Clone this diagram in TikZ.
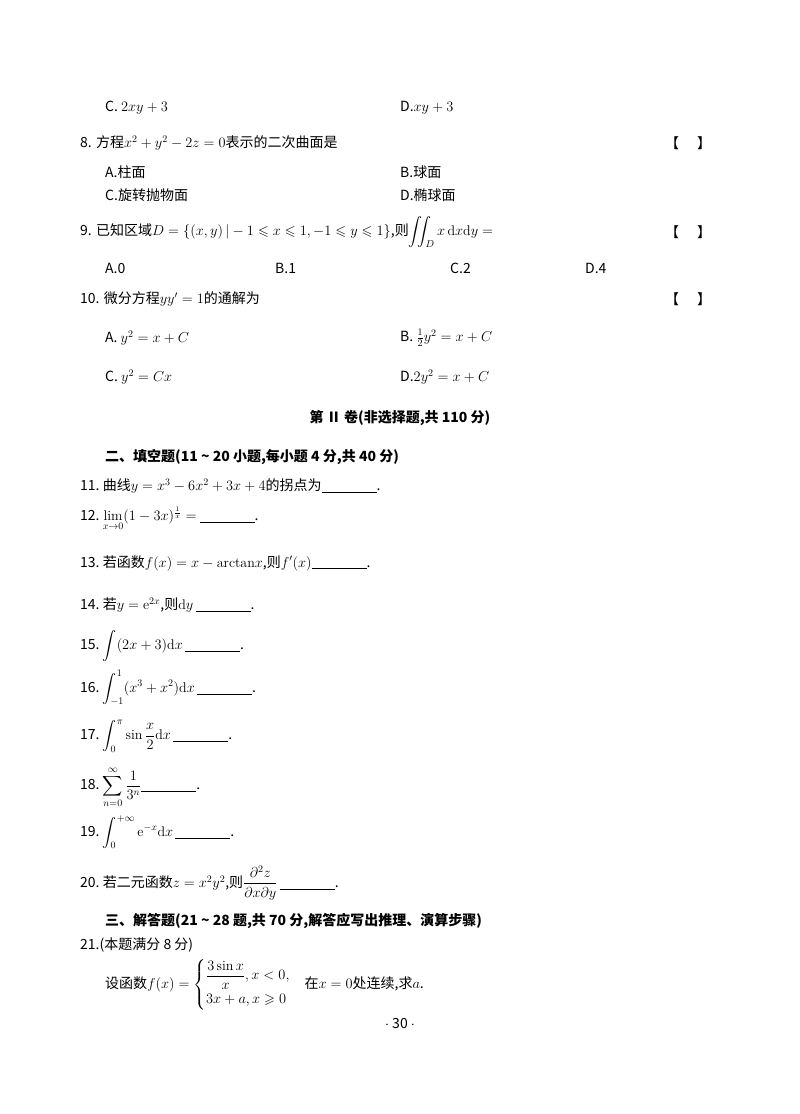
\documentclass[tikz,border=0pt]{standalone}
\usepackage{amsmath,amssymb}
\usepackage{fontspec}
\newfontfamily\cjk{Noto Sans CJK SC}
\newcommand{\blk}{\rule[-2pt]{55pt}{0.6pt}}
\begin{document}
\begin{tikzpicture}[x=1pt,y=-1pt,every node/.style={anchor=west,inner sep=0pt,font=\cjk\fontsize{14}{16}\selectfont}]
\useasboundingbox (0,0) rectangle (800,1114);
\fill[white] (0,0) rectangle (800,1114);
\node (c7) at (105,108) {C. $2xy+3$};
\node (d7) at (400,108) {D.$xy+3$};
\node (q8) at (80,143) {8. 方程$x^2+y^2-2z=0$表示的二次曲面是};
\node (b8) at (665,143) {【\hspace{18pt}】};
\node (a8a) at (105,172) {A.柱面};
\node (a8b) at (400,172) {B.球面};
\node (a8c) at (105,195) {C.旋转抛物面};
\node (a8d) at (400,195) {D.椭球面};
\node (q9) at (80,232) {9. 已知区域$D=\{(x,y)\,|-1\leqslant x\leqslant 1,-1\leqslant y\leqslant 1\}$,则$\displaystyle\iint_D x\,\mathrm{d}x\mathrm{d}y=$};
\node (b9) at (665,232) {【\hspace{18pt}】};
\node (a9a) at (105,268) {A.0};
\node (a9b) at (275,268) {B.1};
\node (a9c) at (450,268) {C.2};
\node (a9d) at (585,268) {D.4};
\node (q10) at (80,299) {10. 微分方程$yy'=1$的通解为};
\node (b10) at (665,299) {【\hspace{18pt}】};
\node (a10a) at (105,338) {A. $y^2=x+C$};
\node (a10b) at (400,338) {B. $\tfrac12 y^2=x+C$};
\node (a10c) at (105,377) {C. $y^2=Cx$};
\node (a10d) at (400,377) {D.$2y^2=x+C$};
\node[anchor=center,font=\cjk\bfseries\fontsize{14}{16}\selectfont] (h2) at (400,418) {第 Ⅱ 卷(非选择题,共 110 分)};
\node[font=\cjk\bfseries\fontsize{14}{16}\selectfont] (s2) at (105,457) {二、填空题(11 \~{} 20 小题,每小题 4 分,共 40 分)};
\node (q11) at (80,486) {11.\ 曲线$y=x^3-6x^2+3x+4$的拐点为\blk.};
\node (q12) at (80,519) {12.\ $\lim\limits_{x\to0}(1-3x)^{\frac1x}=$ \blk.};
\node (q13) at (80,563) {13.\ 若函数$f(x)=x-\mathrm{arctan}x$,则$f'(x)$\blk.};
\node (q14) at (80,605) {14.\ 若$y=\mathrm{e}^{2x}$,则$\mathrm{d}y$\,\blk.};
\node (q15) at (80,646) {15.\ $\displaystyle\int(2x+3)\mathrm{d}x$\,\blk.};
\node (q16) at (80,688) {16.\ $\displaystyle\int_{-1}^{1}(x^3+x^2)\mathrm{d}x$\,\blk.};
\node (q17) at (80,736) {17.\ $\displaystyle\int_0^{\pi}\sin\frac{x}{2}\mathrm{d}x$\,\blk.};
\node (q18) at (80,787) {18.\ $\displaystyle\sum_{n=0}^{\infty}\frac{1}{3^n}$\blk.};
\node (q19) at (80,832) {19.\ $\displaystyle\int_0^{+\infty}\mathrm{e}^{-x}\mathrm{d}x$\,\blk.};
\node (q20) at (80,883) {20.\ 若二元函数$z=x^2y^2$,则$\dfrac{\partial^2 z}{\partial x\partial y}$\,\blk.};
\node[font=\cjk\bfseries\fontsize{14}{16}\selectfont] (s3) at (105,921) {三、解答题(21 \~{} 28 题,共 70 分,解答应写出推理、演算步骤)};
\node (q21) at (80,945) {21.(本题满分 8 分)};
\node (q21b) at (105,985) {设函数$f(x)=\begin{cases}\dfrac{3\sin x}{x},x<0,\\[2pt] 3x+a,x\geqslant0\end{cases}$在$x=0$处连续,求$a$.};
\node[anchor=center] (pg) at (400,1023) {$\cdot$ 30 $\cdot$};
\end{tikzpicture}
\end{document}
